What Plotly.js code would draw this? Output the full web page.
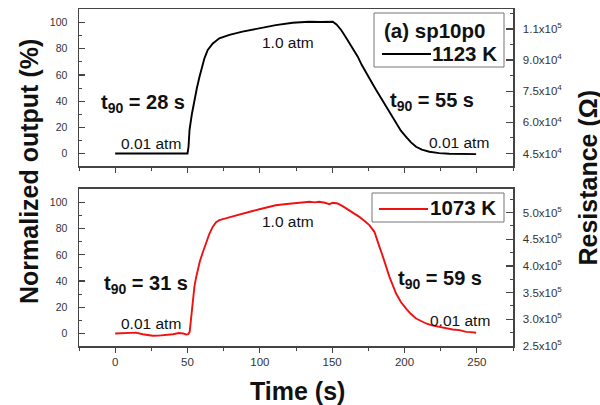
<!DOCTYPE html>
<html>
<head>
<meta charset="utf-8">
<script src="https://cdn.plot.ly/plotly-3.0.1.min.js"></script>
<style>html,body{margin:0;padding:0;background:#fff}#chart{width:600px;height:405px}</style>
</head>
<body>
<div id="chart"></div>
<script>
// ---- data ----
const timeTop = [0, 5, 10, 15, 20, 25, 30, 35, 40, 45, 50, 50.7, 51.4, 53, 54.8, 56.5, 58.3, 60.6, 61.7, 64, 67.5, 72, 79, 88, 99.7, 111, 122.7, 134, 142, 150.4, 153, 156.2, 159, 161.9, 165, 167.7, 170.5, 173.5, 177, 180.4, 184, 187.3, 190.5, 194.2, 197.5, 201.1, 204.5, 208, 212, 217.2, 224, 231, 240, 249.5];
const outTop = [0, -0.2, 0, 0.1, -0.1, 0.2, 0, 0.1, 0, -0.1, 0, 5, 18, 30, 41, 50, 58.6, 68.9, 72.7, 79, 84, 88, 90.5, 93, 95.5, 98, 99.8, 100.6, 100.4, 100.6, 98.5, 94.3, 89.5, 84.1, 79, 73.9, 67.5, 61.2, 55, 48.5, 42, 35.7, 29.5, 23, 17.5, 12.8, 8.5, 5.2, 3, 1.4, 0.3, -0.2, -0.3, -0.4];

const timeBottom = [0, 5, 10, 14.5, 19, 22, 26, 30, 35, 40, 44, 47, 49, 50.5, 51.5, 52.5, 53.5, 54.8, 56, 57.1, 58.5, 60.6, 62.9, 65.2, 67.5, 69.8, 72, 74.4, 77, 80, 85.9, 90, 95, 99.7, 105, 111, 117, 122.7, 127.4, 131, 134.3, 138, 141, 145, 148.1, 150.4, 153.8, 157.5, 161.9, 165, 168.8, 172, 175.7, 179.2, 181, 182.7, 184.5, 186.1, 189.6, 194.2, 197.5, 201.1, 204.5, 208, 211.5, 214.9, 219, 224.1, 229, 233.3, 238, 242.6, 246, 249.5];
const outBottom = [0, 0.3, 0.2, 0.6, -0.6, -1.2, -1.8, -1.7, -1.3, -0.6, 0.3, 0, -0.8, -0.5, 1.2, 13, 25, 36, 43, 49, 55, 62, 70, 76.3, 81.5, 85, 86.5, 87.5, 88, 89, 91, 92.3, 93.5, 94.8, 96.2, 97.9, 98.6, 99.4, 99.6, 100.3, 100.5, 100.1, 100.5, 99.8, 98.7, 99.8, 99.2, 97, 94.1, 91.8, 89, 86.2, 82.7, 77.6, 72.5, 66.1, 60.5, 54.7, 43.2, 30.5, 24, 19, 14.8, 11.4, 9.3, 7.6, 6.2, 5, 4.3, 3, 2.5, 1.2, 1.0, 0.5];

const xTickVals = [0, 50, 100, 150, 200, 250];
const leftTickVals = [0, 20, 40, 60, 80, 100];
const resTopVals = [45000, 60000, 75000, 90000, 105000];
const resTopText = ['4.5x10<sup>4</sup>', '6.0x10<sup>4</sup>', '7.5x10<sup>4</sup>', '9.0x10<sup>4</sup>', '1.1x10<sup>5</sup>'];
const resBotVals = [250000, 300000, 350000, 400000, 450000, 500000];
const resBotText = ['2.5x10<sup>5</sup>', '3.0x10<sup>5</sup>', '3.5x10<sup>5</sup>', '4.0x10<sup>5</sup>', '4.5x10<sup>5</sup>', '5.0x10<sup>5</sup>'];
const nameTop = '1123 K';
const nameBottom = '1073 K';
const sampleLabel = '(a) sp10p0';

// ---- chart ----
const FONT = 'Liberation Sans, Arial, sans-serif';
const LC = '#444';

const traces = [
  {x: timeTop, y: outTop, xaxis: 'x', yaxis: 'y', mode: 'lines', name: nameTop,
   line: {color: '#000', width: 1.9}},
  {x: timeBottom, y: outBottom, xaxis: 'x2', yaxis: 'y2', mode: 'lines', name: nameBottom,
   line: {color: '#ee1111', width: 1.9}},
  // empty traces so that the right-hand resistance axes are created
  {x: [], y: [], xaxis: 'x', yaxis: 'y3', mode: 'lines', hoverinfo: 'skip', showlegend: false},
  {x: [], y: [], xaxis: 'x2', yaxis: 'y4', mode: 'lines', hoverinfo: 'skip', showlegend: false}
];

function xAx(anchor, labels) {
  return {anchor: anchor, domain: [0, 1], range: [-25, 275], tickmode: 'array', tickvals: xTickVals,
    showticklabels: labels, ticks: 'outside', ticklen: 5, tickwidth: 1.2, tickcolor: LC,
    minor: {dtick: 25, tick0: 0, ticks: 'outside', ticklen: 3, tickwidth: 1, tickcolor: LC},
    showline: true, linecolor: LC, linewidth: 1.5, mirror: true, showgrid: false, zeroline: false,
    tickfont: {family: FONT, size: 11.5, color: '#333'}};
}
function yAx(domain, range) {
  return {domain: domain, range: range, tickmode: 'array', tickvals: leftTickVals,
    ticks: 'inside', ticklen: 6, tickwidth: 1.2, tickcolor: LC,
    minor: {dtick: 10, tick0: 0, ticks: 'inside', ticklen: 3, tickwidth: 1, tickcolor: LC},
    showline: true, linecolor: LC, linewidth: 1.5, showgrid: false, zeroline: false,
    ticklabelstandoff: 8,
    tickfont: {family: FONT, size: 10.5, color: '#333'}};
}
function rAx(over, anchor, domain, range, vals, text, minorStep, minorStart) {
  return {overlaying: over, anchor: anchor, side: 'right', domain: domain, range: range, tickmode: 'array',
    tickvals: vals, ticktext: text, ticks: 'inside', ticklen: 7, tickwidth: 1.2, tickcolor: LC,
    minor: {dtick: minorStep, tick0: minorStart, ticks: 'inside', ticklen: 3, tickwidth: 1, tickcolor: LC},
    showline: true, linecolor: LC, linewidth: 1.5, showgrid: false, zeroline: false,
    ticklabelstandoff: 6,
    tickfont: {family: FONT, size: 11.5, color: '#333'}};
}

const pxX = px => (px - 79) / 434;
const pxY = py => (346 - py) / 337;

function txt(text, x, y, ax, ay, size, bold, extra) {
  return Object.assign({text: bold ? '<b>' + text + '</b>' : text, x: x, y: y, xref: ax, yref: ay,
    xanchor: 'center', yanchor: 'middle',
    showarrow: false, font: {family: FONT, size: size, color: '#111'}}, extra || {});
}

const annotations = [
  txt('t<sub>90</sub> = 28 s', 18.9, 38, 'x', 'y', 20, true),
  txt('0.01 atm', 25, 7.3, 'x', 'y', 15.5, false),
  txt('1.0 atm', 119.8, 84.4, 'x', 'y', 15.5, false),
  txt('t<sub>90</sub> = 55 s', 219.3, 40, 'x', 'y', 20, true),
  txt('0.01 atm', 238, 8.4, 'x', 'y', 15.5, false),
  txt('t<sub>90</sub> = 31 s', 21.4, 37, 'x2', 'y2', 20, true),
  txt('0.01 atm', 25.1, 7.9, 'x2', 'y2', 15.5, false),
  txt('1.0 atm', 119.8, 85.2, 'x2', 'y2', 15.5, false),
  txt('t<sub>90</sub> = 59 s', 224.3, 41.5, 'x2', 'y2', 20, true),
  txt('0.01 atm', 238.3, 9.8, 'x2', 'y2', 15.5, false),
  // legends
  txt(sampleLabel, pxX(382), pxY(30), 'paper', 'paper', 20.5, true, {xanchor: 'left'}),
  txt(nameTop, pxX(499), pxY(53.5), 'paper', 'paper', 20.5, true, {xanchor: 'right'}),
  txt(nameBottom, pxX(498), pxY(207.5), 'paper', 'paper', 20.5, true, {xanchor: 'right'}),
  // axis titles
  txt('Normalized output (%)', pxX(29), pxY(172), 'paper', 'paper', 25, true, {textangle: -90}),
  txt('Resistance (Ω)', pxX(587), pxY(177.5), 'paper', 'paper', 25, true, {textangle: -90}),
  txt('Time (s)', pxX(297.5), pxY(391), 'paper', 'paper', 25, true)
];

const shapes = [
  {type: 'rect', xref: 'paper', yref: 'paper', x0: pxX(374), x1: pxX(504), y0: pxY(67), y1: pxY(13),
   line: {color: '#777', width: 1}, fillcolor: 'rgba(0,0,0,0)'},
  {type: 'line', xref: 'paper', yref: 'paper', x0: pxX(382), x1: pxX(431), y0: pxY(54), y1: pxY(54),
   line: {color: '#000', width: 1.9}},
  {type: 'rect', xref: 'paper', yref: 'paper', x0: pxX(372), x1: pxX(504), y0: pxY(222), y1: pxY(193),
   line: {color: '#777', width: 1}, fillcolor: 'rgba(0,0,0,0)'},
  {type: 'line', xref: 'paper', yref: 'paper', x0: pxX(379), x1: pxX(428), y0: pxY(209), y1: pxY(209),
   line: {color: '#ee1111', width: 1.9}}
];

const layout = {
  width: 600, height: 405,
  margin: {l: 79, r: 87, t: 9, b: 59, pad: 0},
  paper_bgcolor: '#fff', plot_bgcolor: '#fff',
  showlegend: false,
  font: {family: FONT},
  xaxis: xAx('y', false),
  xaxis2: xAx('y2', true),
  yaxis: yAx([0.5341, 1], [-9.5, 110.3]),
  yaxis2: yAx([0, 0.4659], [-9.6, 110.3]),
  yaxis3: rAx('y', 'x', [0.5341, 1], [39000, 114600], resTopVals, resTopText, 7500, 45000),
  yaxis4: rAx('y2', 'x2', [0, 0.4659], [249500, 544500], resBotVals, resBotText, 25000, 250000),
  annotations: annotations,
  shapes: shapes
};

Plotly.newPlot('chart', traces, layout, {displayModeBar: false, staticPlot: true});
</script>
</body>
</html>
